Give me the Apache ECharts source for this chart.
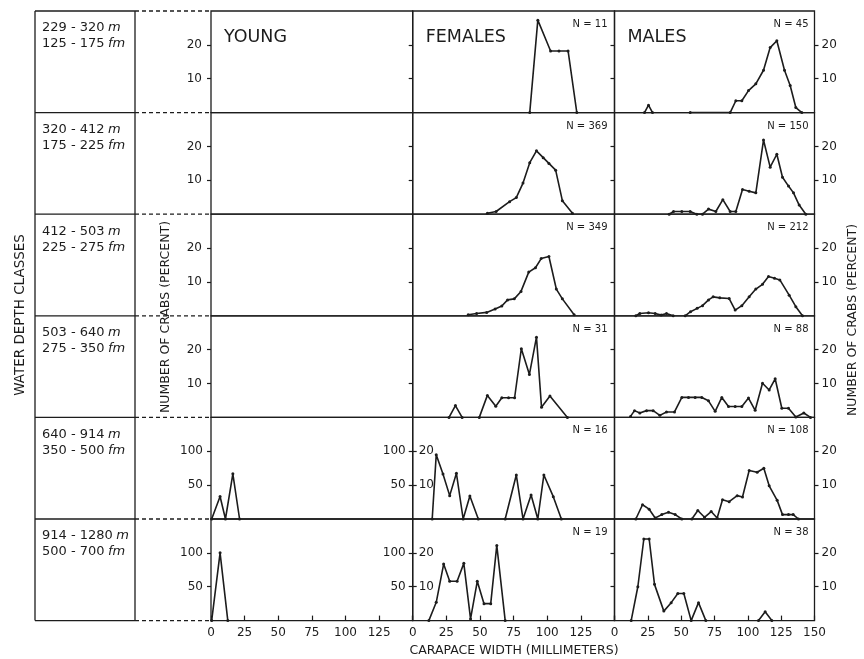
<!DOCTYPE html>
<html>
<head>
<meta charset="utf-8" />
<title>Carapace width by water depth</title>
<style>
    html, body { margin: 0; padding: 0; background: #fff; }
    #main { width: 864px; height: 659px; }
</style>
</head>
<body>
<div id="main"></div>
<script src="https://cdn.jsdelivr.net/npm/echarts@6/dist/echarts.min.js"></script>
<script type="text/javascript">
    // depth classes (one per row)
    var depthMeters = ['229 - 320', '320 - 412', '412 - 503', '503 - 640', '640 - 914', '914 - 1280'];
    var depthFathoms = ['125 - 175', '175 - 225', '225 - 275', '275 - 350', '350 - 500', '500 - 700'];
    var groups = ['YOUNG', 'FEMALES', 'MALES'];
    var femaleN = [11, 369, 349, 31, 16, 19];
    var maleN = [45, 150, 212, 88, 108, 38];
    var widthTicks = [0, 25, 50, 75, 100, 125, 150];
    var pctTicks = [10, 20];
    var youngTicks = [50, 100];

    // [carapace width mm, percent]; every inner array is one drawn segment
    var young5 = [[[0.5, 0], [6.75, 33.3], [10.75, 0], [16.25, 66.7], [21.25, 0]]];
    var young6 = [[[0.5, 0], [6.75, 100], [12.5, 0]]];

    var females1 = [[[87, 0], [93, 27.3], [102.5, 18.2], [108.75, 18.2], [115.5, 18.2], [122, 0]]];
    var females2 = [[[55.5, 0.3], [62, 0.8], [72, 3.7], [77, 4.9], [82, 9.2], [87, 15.2], [92, 18.7],
        [97, 16.7], [101.25, 15], [106.25, 13], [111.25, 4], [118.75, 0.3]]];
    var females3 = [[[41.25, 0.3], [47.5, 0.7], [55, 1], [61.25, 2], [66.25, 2.9], [70.5, 4.7], [75.5, 5],
        [80.5, 7.2], [86.25, 12.9], [91.25, 14.2], [95.5, 16.9], [101.25, 17.5], [106.75, 7.9],
        [111.25, 5], [120, 0.3]]];
    var females4 = [[[27, 0], [31.75, 3.5], [36.75, 0]],
        [[49.5, 0], [55.5, 6.5], [61.75, 3.3], [66.25, 5.8], [71.25, 5.8], [75.75, 5.8], [80.75, 20.3],
            [86.75, 12.7], [92, 23.7], [95.75, 3], [102, 6.3], [115, 0]]];
    var females5 = [[[14.5, 0], [17.5, 19], [22.5, 13.3], [27.5, 6.9], [32.5, 13.5], [37.5, 0], [42.5, 6.8], [48.75, 0]],
        [[68.75, 0], [77, 13], [82, 0], [88, 7.1], [93, 0], [97.5, 13], [104.5, 6.6], [110.5, 0]]];
    var females6 = [[[12, 0], [17.5, 5.4], [23, 16.7], [27.5, 11.6], [33, 11.6], [38, 16.9], [43, 0.5],
        [48, 11.6], [53, 5], [58, 5], [62.5, 22.2], [68.75, 0]]];

    var males1 = [[[22.5, 0], [25.5, 2.2], [28.5, 0]],
        [[56.75, 0], [86.75, 0], [91, 3.5], [95.5, 3.5], [100.5, 6.5], [106, 8.5], [111.75, 12.5],
            [116.75, 19.2], [121.75, 21.2], [127.5, 12.5], [131.75, 8], [136, 1.5], [140.5, 0]]];
    var males2 = [[[41, 0], [44.25, 0.8], [50.5, 0.8], [56.75, 0.8], [61.75, 0], [66, 0], [70.5, 1.5], [76, 0.8],
        [81.25, 4.3], [86.75, 0.8], [91, 0.8], [96, 7.3], [101, 6.8], [106, 6.3], [111.75, 21.9],
        [116.75, 13.9], [121.75, 17.7], [126, 10.9], [130.5, 8.3], [134.25, 6.3], [138.5, 2.7], [143.5, 0]]];
    var males3 = [[[16, 0], [19, 0.7], [25.5, 0.9], [30.5, 0.7], [35, 0.2], [39, 0.7], [44, 0]],
        [[53, 0], [57, 1.2], [62, 2.2], [66, 3], [70.5, 4.7], [74, 5.6], [79, 5.3], [86, 5.1], [90.5, 1.7],
            [95.5, 3], [101, 5.6], [106, 7.9], [111, 9.3], [115.5, 11.6], [120, 11.1], [124, 10.6],
            [131, 6.1], [136, 2.7], [141, 0]]];
    var males4 = [[[12, 0.3], [15, 2], [19, 1.3], [24, 2], [29, 2], [34, 0.6], [39, 1.6], [45, 1.6], [50.5, 5.9],
        [55.5, 5.9], [60.5, 5.9], [65.5, 5.9], [70.5, 4.9], [75.5, 1.8], [80.5, 5.9], [85.5, 3.2],
        [90.5, 3.2], [95.5, 3.2], [100.5, 5.7], [105.5, 2.1], [111, 10.1], [116, 8.1], [120.5, 11.4],
        [125.5, 2.7], [130.5, 2.7], [136, 0.1], [142, 1.3], [147, 0]]];
    var males5 = [[[16, 0], [21, 4.2], [26, 2.9], [30.5, 0.3], [35.5, 1.3], [40.5, 2], [45.5, 1.3], [50.5, 0]],
        [[58, 0], [62.5, 2.5], [67.5, 0.5], [72.5, 2.2], [77, 0.3], [81, 5.7], [86, 5.1], [92, 6.9], [96, 6.5],
            [101, 14.3], [107, 13.8], [112, 15], [116, 9.8], [122, 5.5], [126, 1.3], [130.5, 1.3],
            [134, 1.3], [138, 0]]];
    var males6 = [[[12.5, 0], [17.5, 10], [22, 24.1], [26, 24.1], [30, 10.7], [37, 2.8], [42.5, 5.3], [47.5, 8],
        [52, 8], [57.5, 0], [63, 5.3], [68.5, 0]],
        [[108, 0], [113, 2.6], [118, 0]]];

    var youngRows = [[], [], [], [], young5, young6];
    var femaleRows = [females1, females2, females3, females4, females5, females6];
    var maleRows = [males1, males2, males3, males4, males5, males6];
    var panelRows = [youngRows, femaleRows, maleRows];

    var ink = '#1c1c1c';
    var numFont = 'DejaVu Sans';
    var rowTop = 11, rowH = 101.6;
    var colLeft = [211, 412.7, 614.5];
    var colW = [201.7, 201.8, 200];

    var chart = echarts.init(document.getElementById('main'));

    function makeY(g, max, ticks, side, mode, margin) {
        // mode: 'out' = labels outside, 'in' = labels + ticks inside, 'tick' = outward ticks only
        return {
            gridIndex: g, type: 'value', min: 0, max: max, interval: max / 3, position: side,
            axisLine: { show: false },
            splitLine: { show: false },
            axisTick: {
                show: true, inside: mode === 'in', length: 4, customValues: ticks,
                lineStyle: { color: ink, width: 1.2 }
            },
            axisLabel: {
                show: mode !== 'tick', inside: mode === 'in', margin: margin, customValues: ticks,
                color: ink, fontFamily: numFont, fontSize: 12
            }
        };
    }

    var grids = [], xAxes = [], yAxes = [], series = [];
    for (var r = 0; r < 6; r++) {
        for (var c = 0; c < 3; c++) {
            var g = grids.length;
            var last = r === 5;
            grids.push({
                left: colLeft[c], top: rowTop + r * rowH, width: colW[c], height: rowH,
                show: true, borderColor: ink, borderWidth: 1.3, backgroundColor: 'transparent',
                containLabel: false, outerBoundsMode: 'none'
            });
            xAxes.push({
                gridIndex: g, type: 'value', min: 0, max: 150, interval: 25,
                axisLine: { show: false },
                splitLine: { show: false },
                axisTick: { show: last, inside: true, length: 5, lineStyle: { color: ink, width: 1.2 } },
                axisLabel: {
                    show: last, margin: 6, color: ink, fontFamily: numFont, fontSize: 12,
                    customValues: c === 2 ? widthTicks : widthTicks.slice(0, 6)
                }
            });
            var leftIdx = yAxes.length;
            if (c === 0) {
                if (r < 4) {
                    yAxes.push(makeY(g, 30, pctTicks, 'left', 'out', 9));
                } else {
                    yAxes.push(makeY(g, 150, youngTicks, 'left', 'out', 8));
                    yAxes.push(makeY(g, 150, youngTicks, 'right', 'in', 7));
                }
            } else if (c === 1) {
                yAxes.push(makeY(g, 30, pctTicks, 'left', r < 4 ? 'tick' : 'in', 6));
            } else {
                yAxes.push(makeY(g, 30, pctTicks, 'left', 'tick', 6));
                yAxes.push(makeY(g, 30, pctTicks, 'right', 'out', 7));
            }
            var segs = panelRows[c][r];
            for (var s = 0; s < segs.length; s++) {
                series.push({
                    type: 'line', xAxisIndex: g, yAxisIndex: leftIdx, data: segs[s],
                    symbol: 'circle', symbolSize: 3, showSymbol: true, silent: true,
                    lineStyle: { color: ink, width: 1.6 },
                    itemStyle: { color: ink }
                });
            }
        }
    }

    // frame on the left, dashed links, and all the texts
    var graphics = [];
    function line(x1, y1, x2, y2, dash) {
        graphics.push({
            type: 'line', silent: true,
            shape: { x1: x1, y1: y1, x2: x2, y2: y2 },
            style: { stroke: ink, lineWidth: 1.3, lineDash: dash || null }
        });
    }
    function text(str, x, y, font, align, rot) {
        graphics.push({
            type: 'text', silent: true, x: x, y: y, rotation: rot || 0,
            style: {
                text: str, font: font, fill: ink,
                align: align || 'left', verticalAlign: 'middle',
                textAlign: align || 'left', textVerticalAlign: 'middle'
            }
        });
    }
    function depthText(num, unit, x, y) {
        graphics.push({
            type: 'text', silent: true, x: x, y: y,
            style: {
                text: '{n|' + num + '} {i|' + unit + '}',
                rich: {
                    n: { font: '13px ' + numFont, fill: ink },
                    i: { font: 'italic 13px ' + numFont, fill: ink }
                },
                align: 'left', verticalAlign: 'middle',
                textAlign: 'left', textVerticalAlign: 'middle'
            }
        });
    }
    var frameBottom = rowTop + 6 * rowH;
    line(35, rowTop, 35, frameBottom);
    line(135, rowTop, 135, frameBottom);
    for (var i = 0; i <= 6; i++) {
        var yy = rowTop + i * rowH;
        line(35, yy, 135, yy);
        line(135, yy, 211, yy, [4, 3]);
    }
    for (var k = 0; k < 6; k++) {
        var rowY = rowTop + k * rowH;
        depthText(depthMeters[k], 'm', 42, rowY + 17);
        depthText(depthFathoms[k], 'fm', 42, rowY + 33);
        text('N = ' + femaleN[k], colLeft[1] + colW[1] - 7, rowY + 13.5, '10px ' + numFont, 'right');
        text('N = ' + maleN[k], colLeft[2] + colW[2] - 6, rowY + 13.5, '10px ' + numFont, 'right');
    }
    for (var j = 0; j < 3; j++) {
        text(groups[j], colLeft[j] + 13, 37.5, '17.5px ' + numFont, 'left');
    }
    text('WATER DEPTH CLASSES', 20, 315, '13.5px ' + numFont, 'center', Math.PI / 2);
    text('NUMBER OF CRABS (PERCENT)', 166, 317, '12.5px ' + numFont, 'center', Math.PI / 2);
    text('NUMBER OF CRABS (PERCENT)', 853, 320, '12.5px ' + numFont, 'center', Math.PI / 2);
    text('CARAPACE WIDTH (MILLIMETERS)', 514, 651, '12.5px ' + numFont, 'center');

    var option = {
        backgroundColor: '#fff',
        animation: false,
        grid: grids,
        xAxis: xAxes,
        yAxis: yAxes,
        series: series,
        graphic: graphics
    };
    chart.setOption(option);
</script>
</body>
</html>
